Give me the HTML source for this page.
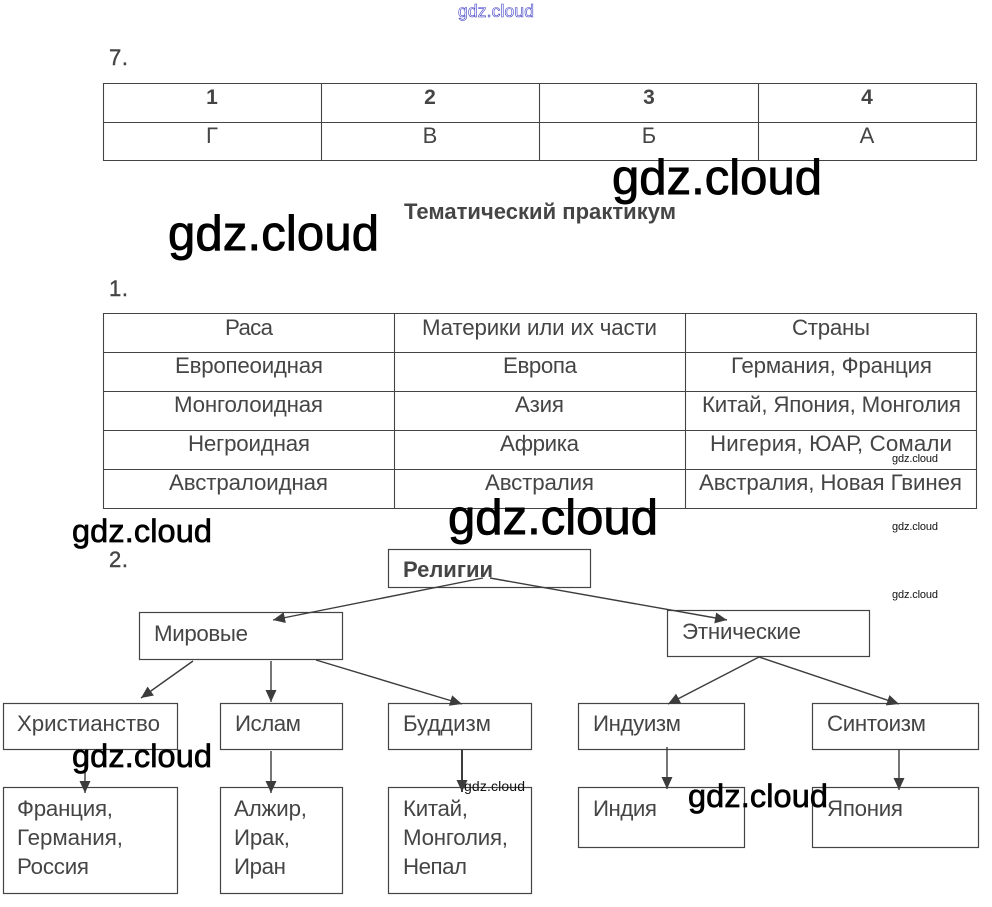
<!DOCTYPE html>
<html lang="ru"><head><meta charset="utf-8"><title>Тематический практикум</title>
<style>
html,body{margin:0;padding:0;background:#fff;width:992px;height:907px;overflow:hidden}
svg{display:block}
text{font-family:"Liberation Sans",sans-serif;fill:#454545;font-size:22.3px}
.b{font-weight:bold}
.n{stroke:#454545;stroke-width:.4px}
.w{fill:#000;stroke:#000;stroke-width:.9px}
.s{fill:#111;font-size:11px}
rect{fill:#fff;stroke:#444;stroke-width:1.2}
.l{stroke:#444;stroke-width:1.1}
.a{stroke:#3c3c3c;stroke-width:1.4;marker-end:url(#m)}
</style></head><body>
<svg width="992" height="907" viewBox="0 0 992 907" xmlns="http://www.w3.org/2000/svg">
<defs><marker id="m" markerUnits="userSpaceOnUse" markerWidth="13" markerHeight="12" refX="12" refY="5.5" orient="auto"><path d="M0 0L12 5.5L0 11z" fill="#3c3c3c"/></marker></defs>

<text x="458" y="17" textLength="76" style="font-size:17.500px;fill:#fff;stroke:#3a3ac4;stroke-width:.6px">gdz.cloud</text>
<text class="n" x="109" y="65" textLength="19" style="font-size:22px">7.</text>

<g class="l" fill="none">
<path class="l" d="M103 83.500H976M103 122.500H976M103 160.500H976M103.500 83V161M321.500 83V161M539.500 83V161M758.500 83V161M976.500 83V161"/>
<path class="l" d="M103 313.500H976M103 352.500H976M103 391.500H976M103 430.500H976M103 469.500H976M103 508.500H976M103.500 313V509M394.500 313V509M685.500 313V509M976.500 313V509"/>
</g>
<g text-anchor="middle">
<text class="b" x="212" y="104" style="font-size:21px">1</text>
<text class="b" x="430" y="104" style="font-size:21px">2</text>
<text class="b" x="649" y="104" style="font-size:21px">3</text>
<text class="b" x="867" y="104" style="font-size:21px">4</text>
<text x="212" y="143" style="font-size:22px">Г</text>
<text x="430" y="143" style="font-size:22px">В</text>
<text x="649" y="143" style="font-size:22px">Б</text>
<text x="867" y="143" style="font-size:22px">А</text>
</g>
<text class="b" x="404" y="219" textLength="272" style="font-size:22px">Тематический практикум</text>
<text class="n" x="109" y="296" textLength="19" style="font-size:22px">1.</text>

<text x="225" y="335" textLength="48">Раса</text>
<text x="422" y="335" textLength="235">Материки или их части</text>
<text x="792" y="335" textLength="78">Страны</text>
<text x="175" y="373" textLength="148">Европеоидная</text>
<text x="503" y="373" textLength="74">Европа</text>
<text x="731" y="373" textLength="201">Германия, Франция</text>
<text x="174" y="412" textLength="149">Монголоидная</text>
<text x="515" y="412" textLength="49">Азия</text>
<text x="702" y="412" textLength="259">Китай, Япония, Монголия</text>
<text x="188" y="451" textLength="122">Негроидная</text>
<text x="500" y="451" textLength="79">Африка</text>
<text x="710" y="451" textLength="242">Нигерия, ЮАР, Сомали</text>
<text x="169" y="490" textLength="159">Австралоидная</text>
<text x="485" y="490" textLength="109">Австралия</text>
<text x="699" y="490" textLength="263">Австралия, Новая Гвинея</text>

<text class="n" x="109" y="567" textLength="19" style="font-size:22px">2.</text>

<rect x="388.500" y="549.500" width="202" height="38"/>
<rect x="139.500" y="612.500" width="203" height="47"/>
<rect x="667.500" y="610.500" width="202" height="46"/>
<rect x="3.500" y="703.500" width="174" height="46"/>
<rect x="220.500" y="703.500" width="122" height="46"/>
<rect x="388.500" y="703.500" width="143" height="46"/>
<rect x="578.500" y="703.500" width="166" height="46"/>
<rect x="812.500" y="703.500" width="166" height="46"/>
<rect x="3.500" y="787.500" width="174" height="106"/>
<rect x="220.500" y="787.500" width="122" height="106"/>
<rect x="388.500" y="787.500" width="143" height="106"/>
<rect x="578.500" y="787.500" width="166" height="60"/>
<rect x="812.500" y="787.500" width="166" height="60"/>

<text class="b" x="403" y="577" textLength="90" style="font-size:22px">Религии</text>
<text x="154" y="641" textLength="94">Мировые</text>
<text x="682" y="639" textLength="119">Этнические</text>
<text x="17" y="731" textLength="143">Христианство</text>
<text x="235" y="731" textLength="66">Ислам</text>
<text x="403" y="731" textLength="88">Буддизм</text>
<text x="593" y="731" textLength="88">Индуизм</text>
<text x="827" y="731" textLength="99">Синтоизм</text>
<text x="17" y="816" textLength="96">Франция,</text>
<text x="17" y="845" textLength="106">Германия,</text>
<text x="17" y="874" textLength="72">Россия</text>
<text x="234" y="816" textLength="73">Алжир,</text>
<text x="234" y="845" textLength="56">Ирак,</text>
<text x="234" y="874" textLength="52">Иран</text>
<text x="403" y="816" textLength="65">Китай,</text>
<text x="403" y="845" textLength="105">Монголия,</text>
<text x="403" y="874" textLength="64">Непал</text>
<text x="593" y="816" textLength="64">Индия</text>
<text x="827" y="816" textLength="76">Япония</text>

<line class="a" x1="483" y1="578" x2="273" y2="620"/>
<line class="a" x1="490" y1="578" x2="727" y2="620"/>
<line class="a" x1="193" y1="661" x2="141" y2="698"/>
<line class="a" x1="271" y1="661" x2="271" y2="702"/>
<line class="a" x1="316" y1="660" x2="462" y2="704"/>
<line class="a" x1="85" y1="752" x2="85" y2="793"/>
<line class="a" x1="271" y1="751" x2="271" y2="793"/>
<line class="a" style="stroke-width:2" x1="462" y1="750" x2="462" y2="792"/>
<line class="a" x1="759" y1="657" x2="668" y2="704"/>
<line class="a" x1="759" y1="657" x2="899" y2="704"/>
<line class="a" x1="667" y1="747" x2="667" y2="789"/>
<line class="a" x1="899" y1="749" x2="899" y2="790"/>

<text class="w" x="612" y="194" textLength="210" style="font-size:49px">gdz.cloud</text>
<text class="w" x="168" y="250" textLength="211" style="font-size:49px">gdz.cloud</text>
<text class="w" x="448" y="534" textLength="210" style="font-size:49px">gdz.cloud</text>
<text class="w" x="72" y="542" textLength="140" style="font-size:32.500px;stroke-width:.7px">gdz.cloud</text>
<text class="w" x="72" y="767" textLength="140" style="font-size:32.500px;stroke-width:.7px">gdz.cloud</text>
<text class="w" x="688" y="807" textLength="140" style="font-size:32.500px;stroke-width:.7px">gdz.cloud</text>
<text class="s" x="892" y="462" textLength="46">gdz.cloud</text>
<text class="s" x="892" y="530" textLength="46">gdz.cloud</text>
<text class="s" x="892" y="598" textLength="46">gdz.cloud</text>
<text class="s" x="464" y="791" textLength="61" style="font-size:14px">gdz.cloud</text>
</svg>
</body></html>
